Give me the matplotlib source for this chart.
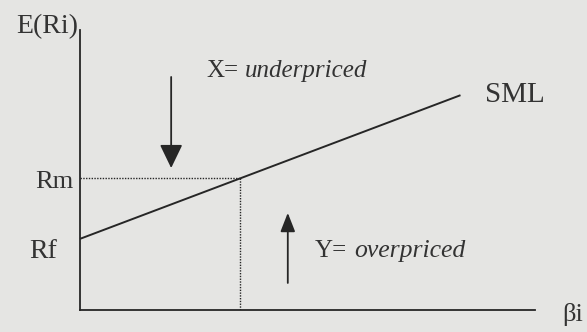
import matplotlib
matplotlib.use("Agg")
import matplotlib.pyplot as plt
import numpy as np

# Conceptual data (arbitrary units)
beta_points = [0.0, 1.0, 2.375]      # SML drawn from beta=0 to beta=2.375
rf = 2.0                              # risk-free rate
rm = 3.7                              # market return (beta = 1)
beta_market = 1.0
x_max = 2.84
y_max = 7.87

# annotation arrow positions (beta, return)
arrow_down = (0.569, 6.55, 3.99)      # x, y_start, y_end
arrow_up = (1.297, 0.76, 2.73)

labels = {
    "y": "E(Ri)", "x": "\u03b2i", "rm": "Rm", "rf": "Rf", "sml": "SML",
}

bg = "#e5e5e3"
ink = "#262626"
tc = "#333333"
font = "Liberation Serif"

W, H = 587, 332
fig = plt.figure(figsize=(W / 100, H / 100), dpi=100, facecolor=bg)
ax = fig.add_axes([80 / W, (H - 310) / H, 455 / W, 280 / H])
ax.set_facecolor(bg)
ax.set_xlim(0, x_max)
ax.set_ylim(0, y_max)
for s in ["top", "right"]:
    ax.spines[s].set_visible(False)
for s in ["left", "bottom"]:
    ax.spines[s].set_color(ink)
    ax.spines[s].set_linewidth(1.3)
ax.set_xticks([])
ax.set_yticks([])

b = np.array(beta_points)
ax.plot(b, rf + (rm - rf) * b, color=ink, lw=1.4, solid_capstyle="butt", clip_on=False)

# dotted guides
ax.plot([0, beta_market], [rm, rm], color=ink, lw=1.0, ls=(0, (1, 1)))
ax.plot([beta_market, beta_market], [0, rm], color=ink, lw=1.0, ls=(0, (1, 1)))

# arrows
ax.annotate("", xy=(arrow_down[0], arrow_down[2]), xytext=(arrow_down[0], arrow_down[1]),
            arrowprops=dict(arrowstyle="-|>,head_length=1.45,head_width=0.7", color=ink, lw=1.3,
                            shrinkA=0, shrinkB=0))
ax.annotate("", xy=(arrow_up[0], arrow_up[2]), xytext=(arrow_up[0], arrow_up[1]),
            arrowprops=dict(arrowstyle="-|>,head_length=1.15,head_width=0.45", color=ink, lw=1.3,
                            shrinkA=0, shrinkB=0))


def ptext(px, py, s, ha="left", va="baseline", **kw):
    fig.text(px / W, 1 - py / H, s, ha=ha, va=va, family=font, color=tc, **kw)


ptext(78, 33, labels["y"], ha="right", fontsize=20)
ptext(73, 188, labels["rm"], ha="right", fontsize=19)
ptext(57, 258, labels["rf"], ha="right", fontsize=20)
ptext(485, 102, labels["sml"], fontsize=21)
ptext(562, 321, labels["x"], fontsize=19)

ptext(206, 77, "X=", fontsize=18)
ptext(245, 77, "underpriced", fontsize=18, style="italic")
ptext(315, 257, "Y=", fontsize=18)
ptext(354, 257, "overpriced", fontsize=18.5, style="italic")

fig.savefig("out.png", dpi=100, facecolor=bg)
